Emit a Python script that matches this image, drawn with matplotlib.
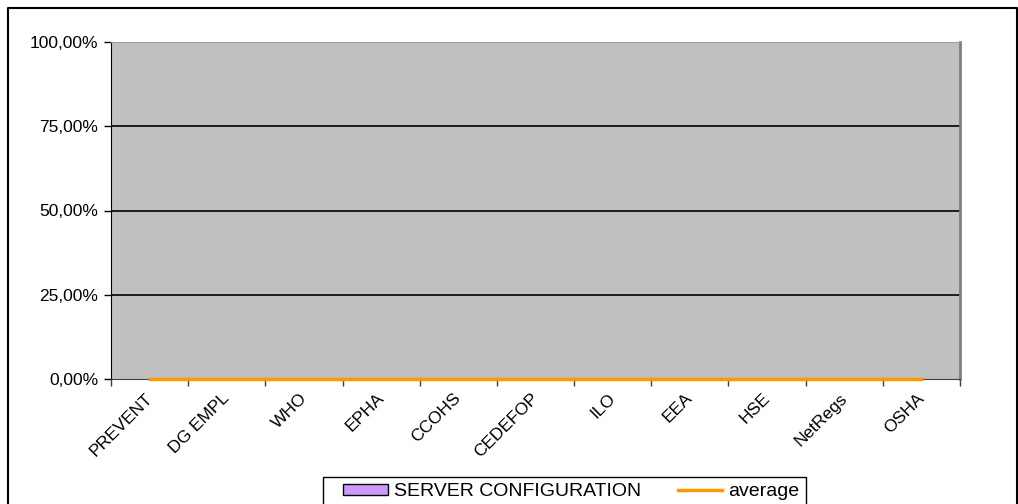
import numpy as np
import matplotlib.pyplot as plt
import matplotlib.transforms as mtransforms
from matplotlib.patches import Patch, Rectangle
from matplotlib.lines import Line2D

categories = ['PREVENT', 'DG EMPL', 'WHO', 'EPHA', 'CCOHS', 'CEDEFOP',
              'ILO', 'EEA', 'HSE', 'NetRegs', 'OSHA']
server_config = [0, 0, 0, 0, 0, 0, 0, 0, 0, 0, 0]
average = [0, 0, 0, 0, 0, 0, 0, 0, 0, 0, 0]
y_ticks = [0, 0.25, 0.5, 0.75, 1.0]
y_labels = ['0,00%', '25,00%', '50,00%', '75,00%', '100,00%']

plt.rcParams['font.family'] = ['Liberation Sans', 'DejaVu Sans']

W, H = 1018, 504
fig = plt.figure(figsize=(W / 100, H / 100), dpi=100)
ax = fig.add_axes([111 / W, 1 - 379 / H, (960 - 111) / W, (379 - 42) / H])

x = np.arange(len(categories))
ax.set_facecolor('#c0c0c0')
ax.bar(x, server_config, width=0.5, color='#cc99ff', linewidth=0, zorder=3)
ax.plot(x, average, color='#ff9900', lw=2.5, zorder=4, clip_on=False)

ax.set_xlim(-0.5, len(categories) - 0.5)
ax.set_ylim(0, 1)
ax.set_yticks(y_ticks)
ax.set_yticklabels(y_labels, fontsize=12.5)
ax.set_xticks(np.arange(len(categories) + 1) - 0.5)
ax.set_xticklabels([])
ax.set_xticks(x, minor=True)
ax.set_xticklabels(categories, minor=True, rotation=45, ha='right', va='top',
                   rotation_mode='anchor', fontsize=12.5)
ax.tick_params(axis='x', which='minor', length=0, pad=6)
ax.tick_params(axis='x', which='major', length=5, width=1, color='#404040')
ax.tick_params(axis='y', length=5, width=1, pad=4)

# nudge the slanted labels a little left/down, as in the original
shift = mtransforms.ScaledTranslation(-5 / 100, -3 / 100, fig.dpi_scale_trans)
for lbl in ax.get_xticklabels(minor=True):
    lbl.set_transform(lbl.get_transform() + shift)

for yv in y_ticks[1:-1]:
    ax.axhline(yv, color='black', lw=1.2, zorder=1)

ax.spines['left'].set_color('black')
ax.spines['bottom'].set_color('#404040')
ax.spines['top'].set_color('#a0a0a0')
ax.spines['right'].set_color('#808080')
ax.spines['right'].set_linewidth(2)

# outer chart border (bottom runs off the image)
fig.add_artist(Line2D([8 / W, 8 / W, 1017 / W, 1017 / W],
                      [-0.1, 1 - 8 / H, 1 - 8 / H, -0.1],
                      transform=fig.transFigure, color='black', lw=1.5))

# legend box, running off the bottom edge
fig.add_artist(Rectangle((323 / W, -0.05), (806 - 323) / W, 0.05 + 27 / H,
                         transform=fig.transFigure, facecolor='white',
                         edgecolor='black', lw=1))
handles = [Patch(facecolor='#cc99ff', edgecolor='black', label='SERVER CONFIGURATION'),
           Line2D([], [], color='#ff9900', lw=2.5, label='average')]
leg = fig.legend(handles=handles, ncol=2, loc='upper left',
                 bbox_to_anchor=(343 / W, 1 - 483 / H), fontsize=14,
                 frameon=False, borderaxespad=0, borderpad=0,
                 handlelength=2.3, handleheight=0.5, columnspacing=1.9,
                 handletextpad=0.3)

fig.savefig('out.png', dpi=100)
